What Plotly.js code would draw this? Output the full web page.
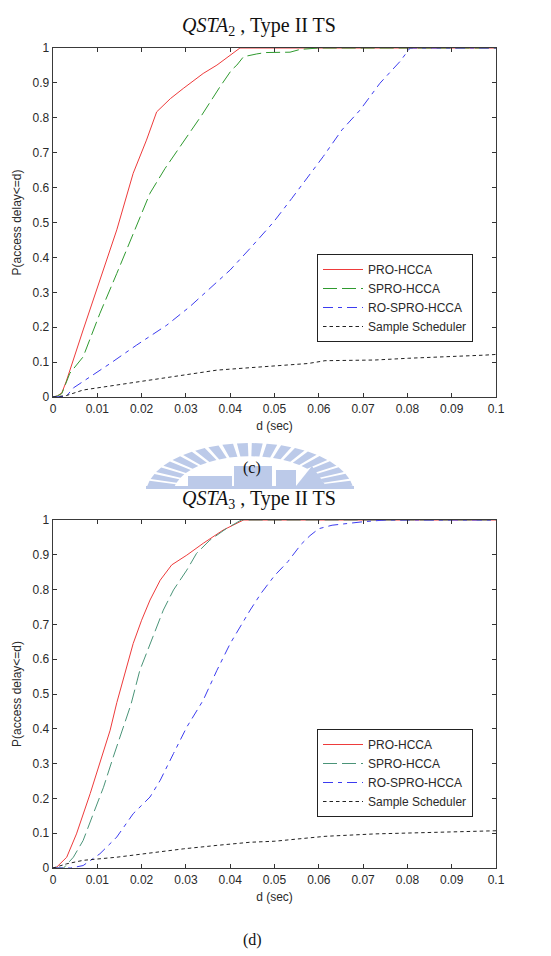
<!DOCTYPE html>
<html>
<head>
<meta charset="utf-8">
<script src="https://cdn.plot.ly/plotly-3.0.1.min.js"></script>
<style>
  html, body { margin: 0; padding: 0; background: #fff; }
  #chart { width: 551px; height: 956px; }
</style>
</head>
<body>
<div id="chart"></div>
<script>
// Access-delay CDFs, panel (c): QSTA2, Type II TS
const pro2_d   = [0, 0.001, 0.002, 0.003, 0.0068, 0.0106, 0.0144, 0.0181, 0.0211, 0.0234, 0.0265, 0.0294, 0.0339, 0.037, 0.040, 0.0422, 0.1];
const pro2_p   = [0, 0.003, 0.012, 0.045, 0.192, 0.335, 0.479, 0.641, 0.736, 0.817, 0.855, 0.884, 0.927, 0.951, 0.978, 1.0, 1.0];
const spro2_d  = [0, 0.001, 0.002, 0.0038, 0.0068, 0.0106, 0.0144, 0.0178, 0.0219, 0.0253, 0.0294, 0.0336, 0.0377, 0.0403, 0.0415, 0.043, 0.046, 0.048, 0.0535, 0.0558, 0.06, 0.1];
const spro2_p  = [0, 0.003, 0.01, 0.068, 0.115, 0.24, 0.354, 0.457, 0.584, 0.655, 0.732, 0.808, 0.889, 0.937, 0.951, 0.975, 0.983, 0.987, 0.988, 0.996, 1.0, 1.0];
const ro2_d    = [0, 0.003, 0.0046, 0.0068, 0.0129, 0.0189, 0.0257, 0.0309, 0.0362, 0.04, 0.0445, 0.0497, 0.0539, 0.0584, 0.061, 0.0652, 0.0693, 0.0738, 0.0783, 0.0806, 0.1];
const ro2_p    = [0, 0.002, 0.026, 0.044, 0.096, 0.149, 0.206, 0.259, 0.321, 0.364, 0.426, 0.5, 0.569, 0.646, 0.689, 0.765, 0.822, 0.899, 0.961, 1.0, 1.0];
const ss2_d    = [0, 0.003, 0.0068, 0.0144, 0.0219, 0.0294, 0.037, 0.0445, 0.0501, 0.0576, 0.0614, 0.0727, 0.0802, 0.0877, 0.0975, 0.1];
const ss2_p    = [0, 0.004, 0.02, 0.034, 0.049, 0.063, 0.077, 0.084, 0.089, 0.096, 0.104, 0.106, 0.111, 0.114, 0.12, 0.122];

// Panel (d): QSTA3, Type II TS
const pro3_d   = [0, 0.0008, 0.0031, 0.0053, 0.0084, 0.0106, 0.0129, 0.0144, 0.0166, 0.0181, 0.02, 0.0219, 0.0242, 0.0268, 0.0302, 0.0339, 0.0384, 0.0415, 0.043, 0.1];
const pro3_p   = [0, 0.002, 0.031, 0.098, 0.214, 0.3, 0.396, 0.475, 0.578, 0.645, 0.712, 0.77, 0.827, 0.871, 0.899, 0.933, 0.971, 0.99, 1.0, 1.0];
const spro3_d  = [0, 0.0024, 0.0046, 0.0068, 0.0091, 0.0114, 0.0136, 0.0159, 0.0176, 0.0196, 0.0219, 0.0249, 0.0272, 0.0302, 0.0324, 0.0354, 0.0392, 0.0425, 0.1];
const spro3_p  = [0, 0.0, 0.031, 0.079, 0.156, 0.232, 0.319, 0.405, 0.47, 0.568, 0.645, 0.741, 0.799, 0.856, 0.904, 0.942, 0.976, 1.0, 1.0];
const ro3_d    = [0, 0.004, 0.0068, 0.0106, 0.0144, 0.0181, 0.0219, 0.0242, 0.0272, 0.0302, 0.0339, 0.037, 0.04, 0.0422, 0.0445, 0.047, 0.05, 0.053, 0.056, 0.058, 0.06, 0.063, 0.066, 0.07, 0.075, 0.1];
const ro3_p    = [0, 0, 0.007, 0.041, 0.089, 0.156, 0.204, 0.252, 0.329, 0.405, 0.482, 0.568, 0.645, 0.693, 0.741, 0.79, 0.84, 0.88, 0.93, 0.955, 0.975, 0.985, 0.99, 0.995, 1.0, 1.0];
const ss3_d    = [0, 0.0031, 0.0068, 0.0144, 0.0219, 0.0294, 0.037, 0.0445, 0.0501, 0.0614, 0.0727, 0.084, 0.0953, 0.1];
const ss3_p    = [0, 0.012, 0.022, 0.031, 0.043, 0.055, 0.065, 0.074, 0.077, 0.091, 0.098, 0.101, 0.106, 0.107];

const seriesNames = ['PRO-HCCA', 'SPRO-HCCA', 'RO-SPRO-HCCA', 'Sample Scheduler'];
const xTickVals = [0, 0.01, 0.02, 0.03, 0.04, 0.05, 0.06, 0.07, 0.08, 0.09, 0.1];
const xTickText = ['0', '0.01', '0.02', '0.03', '0.04', '0.05', '0.06', '0.07', '0.08', '0.09', '0.1'];
const yTickVals = [0, 0.1, 0.2, 0.3, 0.4, 0.5, 0.6, 0.7, 0.8, 0.9, 1];
const yTickText = ['0', '0.1', '0.2', '0.3', '0.4', '0.5', '0.6', '0.7', '0.8', '0.9', '1'];

const SANS = 'Liberation Sans, Arial, sans-serif';
const SERIF = 'Liberation Serif, Times New Roman, serif';

const styles = [
  { color: '#ee3b3b', dash: 'solid' },
  { color: '#2f9a2f', dash: '14px,5px' },
  { color: '#3c3cf0', dash: '10px,5px,4px,5px' },
  { color: '#222222', dash: '3.5px,3px' }
];

function trace(x, y, i, xa, ya, legend, colorOverride) {
  return {
    x: x, y: y, xaxis: xa, yaxis: ya, legend: legend,
    type: 'scatter', mode: 'lines', name: seriesNames[i],
    line: { color: colorOverride || styles[i].color, width: 1, dash: styles[i].dash },
    hoverinfo: 'skip'
  };
}

const data = [
  trace(pro2_d, pro2_p, 0, 'x', 'y', 'legend'),
  trace(spro2_d, spro2_p, 1, 'x', 'y', 'legend'),
  trace(ro2_d, ro2_p, 2, 'x', 'y', 'legend'),
  trace(ss2_d, ss2_p, 3, 'x', 'y', 'legend'),
  trace(pro3_d, pro3_p, 0, 'x2', 'y2', 'legend2'),
  trace(spro3_d, spro3_p, 1, 'x2', 'y2', 'legend2', '#4a9478'),
  trace(ro3_d, ro3_p, 2, 'x2', 'y2', 'legend2'),
  trace(ss3_d, ss3_p, 3, 'x2', 'y2', 'legend2')
];

// page geometry helpers (pixel -> paper)
const W = 551, H = 956, ML = 53, MR = 55, MT = 48, MB = 88;
const PW = W - ML - MR, PH = H - MT - MB;
const px = v => (v - ML) / PW;
const py = v => (H - MB - v) / PH;

const TICKFONT = { family: SANS, size: 12, color: '#2a2a2a' };

function xAxis(anchor) {
  return {
    anchor: anchor, range: [0, 0.1], tickmode: 'array', tickvals: xTickVals, ticktext: xTickText,
    ticks: 'inside', ticklen: 4, tickwidth: 1, tickcolor: '#333',
    showline: true, linecolor: '#3a3a3a', linewidth: 1.3, mirror: 'ticks',
    showgrid: false, zeroline: false, fixedrange: true,
    tickfont: TICKFONT,
    title: { text: 'd (sec)', font: TICKFONT, standoff: 7 }
  };
}
function yAxis(anchor, domain) {
  return {
    anchor: anchor, domain: domain, range: [0, 1], tickmode: 'array', tickvals: yTickVals, ticktext: yTickText,
    ticks: 'inside', ticklen: 4, tickwidth: 1, tickcolor: '#333',
    showline: true, linecolor: '#3a3a3a', linewidth: 1.3, mirror: 'ticks',
    showgrid: false, zeroline: false, fixedrange: true,
    tickfont: TICKFONT,
    title: { text: 'P(access delay&lt;=d)', font: TICKFONT, standoff: 8 }
  };
}

function legendBox(topPx) {
  return {
    x: px(317), y: py(topPx), xanchor: 'left', yanchor: 'top',
    bgcolor: '#fff', bordercolor: '#222', borderwidth: 1,
    font: { family: SANS, size: 12, color: '#2a2a2a' },
    itemwidth: 40, tracegroupgap: 0
  };
}

// faint emblem behind the "(c)" caption
const emblem = [];
const EC = '#bccae9';
(function () {
  const cx = 250, cy = 494, rx = 104, ry = 51;
  for (let a = 168; a >= 12; a -= 8.2) {
    const a1 = (a - 3) * Math.PI / 180, a2 = (a + 3) * Math.PI / 180;
    const r1 = 0.74, r2 = 1.0;
    const pts = [
      [cx + rx * r1 * Math.cos(a1), cy - ry * r1 * Math.sin(a1)],
      [cx + rx * r2 * Math.cos(a1), cy - ry * r2 * Math.sin(a1)],
      [cx + rx * r2 * Math.cos(a2), cy - ry * r2 * Math.sin(a2)],
      [cx + rx * r1 * Math.cos(a2), cy - ry * r1 * Math.sin(a2)]
    ];
    const path = 'M' + pts.map(p => px(p[0]).toFixed(5) + ',' + py(p[1]).toFixed(5)).join('L') + 'Z';
    emblem.push({ type: 'path', xref: 'paper', yref: 'paper', path: path, fillcolor: EC, line: { width: 0 }, layer: 'below' });
  }
  // base band
  emblem.push({ type: 'rect', xref: 'paper', yref: 'paper', x0: px(146), x1: px(354), y0: py(489), y1: py(486), fillcolor: EC, line: { width: 0 }, layer: 'below' });
  // buildings
  const blds = [[188, 476, 232, 486], [234, 466, 272, 486], [276, 470, 296, 486]];
  blds.forEach(b => emblem.push({ type: 'rect', xref: 'paper', yref: 'paper', x0: px(b[0]), x1: px(b[2]), y0: py(b[3]), y1: py(b[1]), fillcolor: EC, line: { width: 0 }, layer: 'below' }));
  const tri = [[296, 486], [312, 466], [326, 486]];
  emblem.push({ type: 'path', xref: 'paper', yref: 'paper', path: 'M' + tri.map(p => px(p[0]).toFixed(5) + ',' + py(p[1]).toFixed(5)).join('L') + 'Z', fillcolor: EC, line: { width: 0 }, layer: 'below' });
})();

const layout = {
  width: W, height: H,
  margin: { l: ML, r: MR, t: MT, b: MB, autoexpand: false },
  paper_bgcolor: '#fff', plot_bgcolor: 'rgba(0,0,0,0)',
  showlegend: true,
  xaxis: xAxis('y'),
  yaxis: yAxis('x', [py(397), 1]),
  xaxis2: xAxis('y2'),
  yaxis2: yAxis('x2', [0, py(520)]),
  legend: legendBox(254),
  legend2: legendBox(729),
  shapes: emblem,
  annotations: [
    { xref: 'paper', yref: 'paper', x: px(259), y: py(27), xanchor: 'center', yanchor: 'middle', showarrow: false,
      text: '<i>QSTA</i><sub>2</sub> , Type II TS', font: { family: SERIF, size: 20, color: '#111' } },
    { xref: 'paper', yref: 'paper', x: px(259), y: py(499), xanchor: 'center', yanchor: 'middle', showarrow: false,
      text: '<i>QSTA</i><sub>3</sub> , Type II TS', font: { family: SERIF, size: 20, color: '#111' } },
    { xref: 'paper', yref: 'paper', x: px(252), y: py(468), xanchor: 'center', yanchor: 'middle', showarrow: false,
      text: '(c)', font: { family: SERIF, size: 16, color: '#111' } },
    { xref: 'paper', yref: 'paper', x: px(252), y: py(940), xanchor: 'center', yanchor: 'middle', showarrow: false,
      text: '(d)', font: { family: SERIF, size: 16, color: '#111' } }
  ]
};

Plotly.newPlot('chart', data, layout, { displayModeBar: false, staticPlot: true });
</script>
</body>
</html>
